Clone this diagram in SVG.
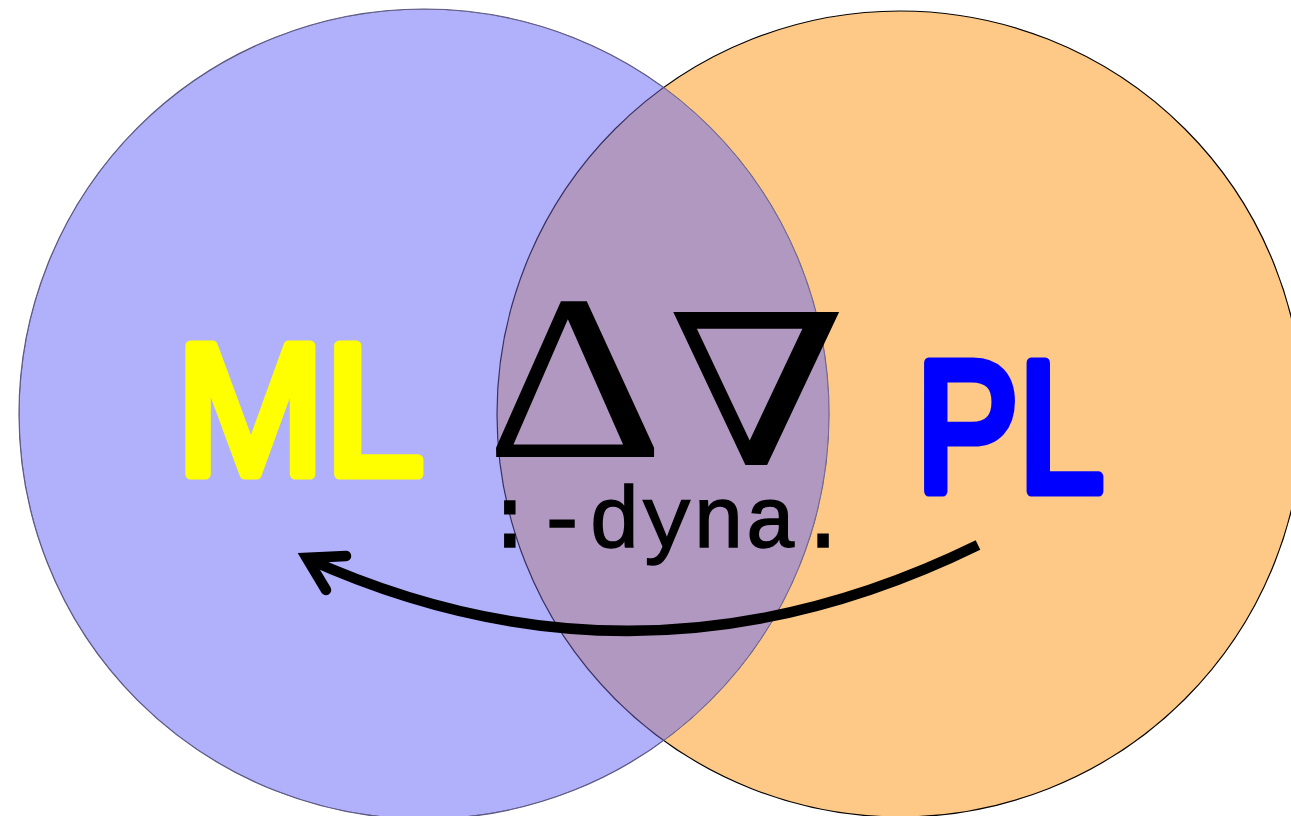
<svg xmlns="http://www.w3.org/2000/svg" width="1291" height="816" viewBox="0 0 1291 816">
<style>
.hand{font-family:"Comic Sans MS","Liberation Sans",sans-serif;font-size:186px;stroke-linejoin:round;stroke-linecap:round;stroke-width:11}
.sym{font-family:"Liberation Serif","DejaVu Serif",serif;fill:#000}
.mono{font-family:"Liberation Mono","DejaVu Sans Mono",monospace;font-size:87px;fill:#000;stroke:#000;stroke-width:1.5}
</style>
<defs>
<clipPath id="clipA"><circle cx="424" cy="414" r="405"/></clipPath>
</defs>
<rect width="1291" height="816" fill="#fff"/>
<g id="pl-circle">
<circle cx="900" cy="414" r="403" fill="#FEC987" stroke="#000" stroke-width="1.2"/>
</g>
<g id="ml-circle">
<circle cx="424" cy="414" r="405" fill="#B0B0FB" stroke="#55557a" stroke-width="1.2"/>
</g>
<g id="overlap">
<circle cx="900" cy="414" r="403" fill="#B098C0" stroke="#3a3060" stroke-width="1.2" clip-path="url(#clipA)"/>
<circle cx="424" cy="414" r="405" fill="none" stroke="#6a6090" stroke-width="1" clip-path="url(#clipA)"/>
</g>
<g id="ml-label">
<text class="hand" x="176" y="474" fill="#FFFF00" stroke="#FFFF00" textLength="248" lengthAdjust="spacingAndGlyphs">ML</text>
</g>
<g id="pl-label">
<text class="hand" x="916" y="491" fill="#0000FF" stroke="#0000FF" textLength="188" lengthAdjust="spacingAndGlyphs">PL</text>
</g>
<g id="dyna-label">
<text class="sym" transform="translate(575,457) scale(1.18,1)" font-size="236" text-anchor="middle">Δ</text>
<text class="sym" transform="translate(757,465) scale(1.23,1)" font-size="210" text-anchor="middle">∇</text>
<text class="mono" x="666.5" y="547" text-anchor="middle">:-dyna.</text>
</g>
<g id="connectors" fill="none" stroke="#000" stroke-width="10.5">
<path d="M978,545 Q641,710 306,558"/>
<path d="M346,556 L306.7,557.9 L326,590" stroke-linecap="round" stroke-linejoin="miter"/>
</g>
</svg>
